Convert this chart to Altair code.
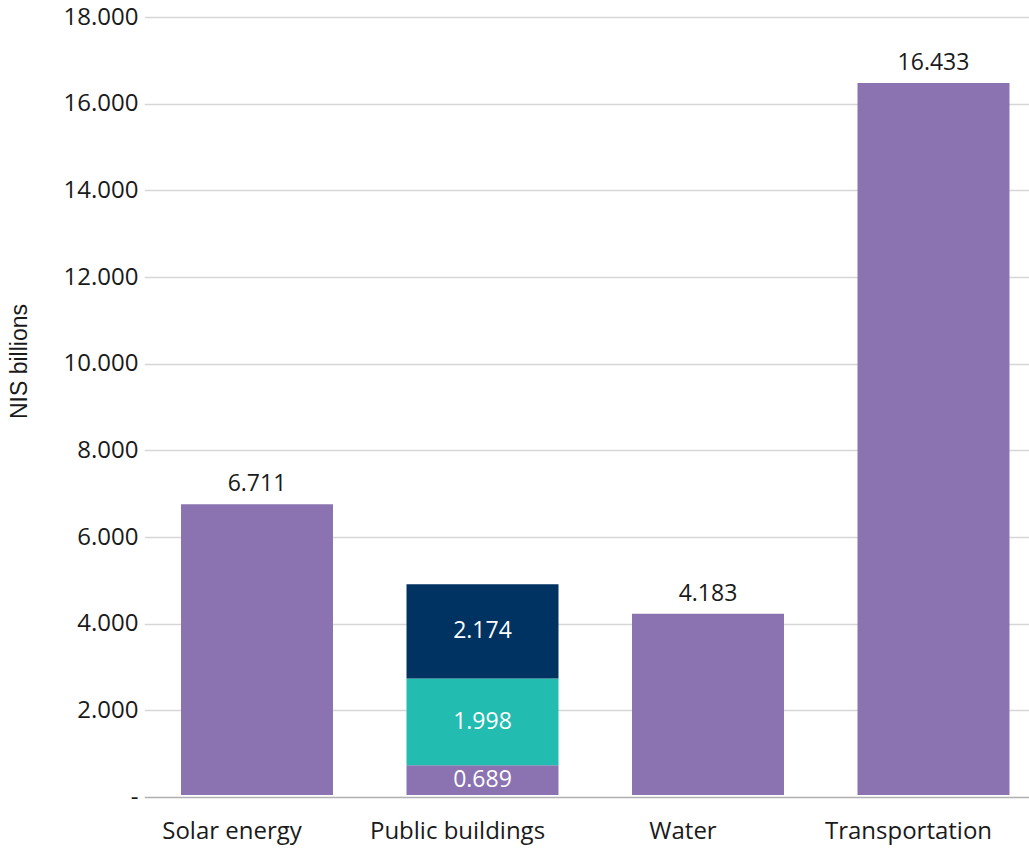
import altair as alt
import pandas as pd

categories = ["Solar energy", "Public buildings", "Public buildings", "Public buildings", "Water", "Transportation"]
segments = ["Base", "Base", "Mid", "Top", "Base", "Base"]
values = [6.711, 0.689, 1.998, 2.174, 4.183, 16.433]
cat_order = ["Solar energy", "Public buildings", "Water", "Transportation"]
seg_names = ["Base", "Mid", "Top"]
seg_colors = ["#8B73B2", "#22BCB0", "#003262"]
y_ticks = [0, 2, 4, 6, 8, 10, 12, 14, 16, 18]

rows = []
cum = {}
for c, s, v in zip(categories, segments, values):
    start = cum.get(c, 0.0)
    end = start + v
    cum[c] = end
    rows.append({"category": c, "segment": s, "value": v, "start": start, "end": end,
                 "mid": (start + end) / 2, "stacked": categories.count(c) > 1})
df = pd.DataFrame(rows)

FONT = "Open Sans"

x_enc = alt.X("category:N", sort=cat_order, title=None,
              scale=alt.Scale(range=[-11.75, 890.25], paddingInner=0.326, paddingOuter=0.163),
              axis=alt.Axis(domain=False, ticks=False, labelFontSize=24, labelFont=FONT,
                            labelColor="#1a1a1a", labelPadding=22, labelBaseline="top",
                            labelAngle=0, labelOffset=-25))

y_scale = alt.Scale(domain=[0, 18], nice=False)

bars = alt.Chart(df).mark_bar(yOffset=-2, y2Offset=-2).encode(
    x=x_enc,
    y=alt.Y("end:Q", scale=y_scale, title="NIS billions",
            axis=alt.Axis(values=y_ticks, domain=False, ticks=False,
                          labelExpr="datum.value == 0 ? '-' : format(datum.value, '.3f')",
                          labelFontSize=24, labelFont=FONT, labelColor="#1a1a1a", labelPadding=18,
                          gridColor=alt.condition(alt.datum.value == 0, alt.value("#b0b0b0"), alt.value("#d6d6d6")),
                          gridWidth=1.3,
                          titleFont="Liberation Sans", titleFontSize=23, titleFontWeight="normal",
                          titleColor="#1a1a1a", titleAngle=270, titleX=-137, titleY=344,
                          titleAlign="center", titleBaseline="middle")),
    y2="start:Q",
    color=alt.Color("segment:N", scale=alt.Scale(domain=seg_names, range=seg_colors), legend=None),
)

top_labels = alt.Chart(df).transform_filter("!datum.stacked").mark_text(
    fontSize=23, font=FONT, color="#1a1a1a", dy=-15, baseline="alphabetic"
).encode(
    x=alt.X("category:N", sort=cat_order),
    y=alt.Y("end:Q", scale=y_scale),
    text=alt.Text("value:Q", format=".3f"),
)

inner_labels = alt.Chart(df).transform_filter("datum.stacked").mark_text(
    fontSize=23, font=FONT, color="white", baseline="middle", dy=-2
).encode(
    x=alt.X("category:N", sort=cat_order),
    y=alt.Y("mid:Q", scale=y_scale),
    text=alt.Text("value:Q", format=".3f"),
)

chart = alt.layer(bars, top_labels, inner_labels).properties(
    width=871, height=780,
    autosize=alt.AutoSizeParams(type="none"),
    padding={"left": 156, "top": 17, "right": 2, "bottom": 55},
).configure_view(stroke=None)

chart.save("out.html", embed_options={"renderer": "svg", "actions": False})
